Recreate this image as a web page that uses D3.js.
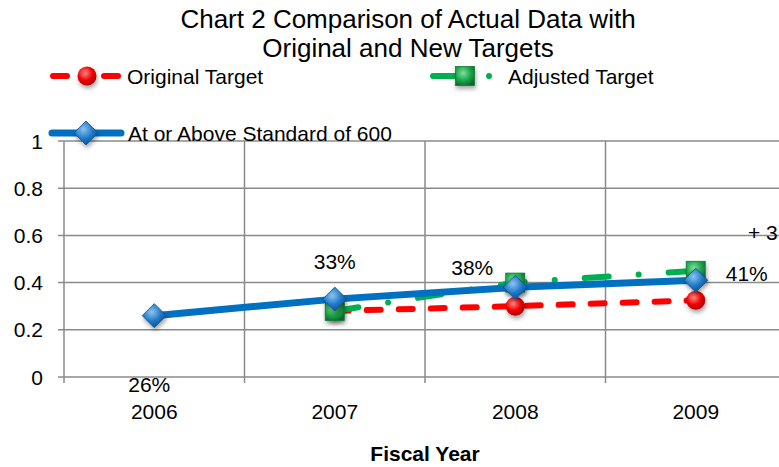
<!DOCTYPE html>
<html>
<head>
<meta charset="utf-8">
<script src="https://cdn.jsdelivr.net/npm/d3@7"></script>
<style>
  html, body { margin: 0; padding: 0; background: #fff; overflow: hidden; }
  svg { display: block; font-family: "Liberation Sans", Arial, sans-serif; }
</style>
</head>
<body>
<svg id="chart" width="779" height="467"></svg>
<script>
// chart values
const years = ["2006", "2007", "2008", "2009"];
const actual = [0.26, 0.33, 0.38, 0.41];
const originalTarget = [null, 0.28, 0.30, 0.325];
const adjustedTarget = [null, 0.28, 0.40, 0.45];
const actualLabels = ["26%", "33%", "38%", "41%"];
const yTicks = [0, 0.2, 0.4, 0.6, 0.8, 1];

const svg = d3.select("#chart");
const defs = svg.append("defs");
const FS = "21px";

// plot area runs past the right edge of the window, as in the reference
const plotLeft = 64, plotRight = 786, plotTop = 141, plotBottom = 377;

const x = d3.scaleBand().domain(years).range([plotLeft, plotRight]).padding(0);
const y = d3.scaleLinear().domain([0, 1]).range([plotBottom, plotTop]);

// marker gradients
function radial(id, light, mid, dark) {
    let g = defs.append("radialGradient").attr("id", id)
        .attr("cx", "40%").attr("cy", "35%").attr("r", "70%");
    g.append("stop").attr("offset", "0%").attr("stop-color", light);
    g.append("stop").attr("offset", "55%").attr("stop-color", mid);
    g.append("stop").attr("offset", "100%").attr("stop-color", dark);
}
radial("gRed", "#ff8a8a", "#f00000", "#a00000");
radial("gGreen", "#7fe0a0", "#1fa84c", "#0b6a2c");
radial("gBlue", "#8cc4f0", "#1f78c8", "#0b4a8a");

let shadow = defs.append("filter").attr("id", "shadow")
    .attr("x", "-50%").attr("y", "-50%").attr("width", "200%").attr("height", "200%");
shadow.append("feDropShadow").attr("dx", 1).attr("dy", 3)
    .attr("stdDeviation", 2).attr("flood-color", "#000").attr("flood-opacity", 0.35);

// title
svg.append("text").attr("x", 408).attr("y", 28).attr("text-anchor", "middle")
    .style("font-size", "26px").text("Chart 2 Comparison of Actual Data with");
svg.append("text").attr("x", 408).attr("y", 57).attr("text-anchor", "middle")
    .style("font-size", "26px").text("Original and New Targets");

// horizontal gridlines + y ticks
const grid = svg.append("g");
yTicks.forEach(t => {
    grid.append("line")
        .attr("x1", plotLeft - 6).attr("x2", plotRight)
        .attr("y1", y(t)).attr("y2", y(t))
        .attr("stroke", "#8a8a8a").attr("stroke-width", 1.5);
    svg.append("text")
        .attr("x", 43).attr("y", y(t)).attr("dy", "0.36em")
        .attr("text-anchor", "end")
        .style("font-size", FS)
        .text(t);
});

// vertical gridlines at category boundaries
const edges = years.map(d => x(d)).concat([plotRight]);
edges.forEach(e => {
    grid.append("line")
        .attr("x1", e).attr("x2", e)
        .attr("y1", plotTop).attr("y2", plotBottom + 6)
        .attr("stroke", "#8a8a8a").attr("stroke-width", 1.5);
});

// x tick labels
years.forEach(yr => {
    svg.append("text")
        .attr("x", x(yr) + x.bandwidth() / 2).attr("y", 419)
        .attr("text-anchor", "middle")
        .style("font-size", FS)
        .text(yr);
});

svg.append("text").attr("x", 425).attr("y", 461).attr("text-anchor", "middle")
    .style("font-size", FS).style("font-weight", "bold").text("Fiscal Year");

const cx = (d, i) => x(years[i]) + x.bandwidth() / 2;
const line = d3.line().defined(d => d != null).x(cx).y(d => y(d));

// markers
function drawCircle(g, px, py) {
    g.append("circle").attr("cx", px).attr("cy", py).attr("r", 9.5)
        .attr("fill", "url(#gRed)").attr("filter", "url(#shadow)");
}
function drawSquare(g, px, py) {
    g.append("rect").attr("x", px - 9.5).attr("y", py - 9.5)
        .attr("width", 19).attr("height", 19)
        .attr("fill", "url(#gGreen)").attr("stroke", "#0e7a34").attr("stroke-width", 0.8)
        .attr("filter", "url(#shadow)");
}
function drawDiamond(g, px, py) {
    g.append("path")
        .attr("d", `M${px},${py - 12}L${px + 12},${py}L${px},${py + 12}L${px - 12},${py}Z`)
        .attr("fill", "url(#gBlue)").attr("stroke", "#0b5394").attr("stroke-width", 0.8)
        .attr("filter", "url(#shadow)");
}

// original target (red dashed)
const red = svg.append("g");
red.append("path").datum(originalTarget).attr("d", line)
    .attr("fill", "none").attr("stroke", "#ff0000").attr("stroke-width", 6)
    .attr("stroke-linecap", "round").attr("stroke-dasharray", "14 18");
originalTarget.forEach((d, i) => { if (d != null) drawCircle(red, cx(d, i), y(d)); });

// adjusted target (green dash-dot)
const green = svg.append("g");
green.append("path").datum(adjustedTarget).attr("d", line)
    .attr("fill", "none").attr("stroke", "#00b050").attr("stroke-width", 6)
    .attr("stroke-linecap", "round").attr("stroke-dasharray", "24 30 0.1 30");
adjustedTarget.forEach((d, i) => { if (d != null) drawSquare(green, cx(d, i), y(d)); });

// actual (blue solid)
const blue = svg.append("g");
blue.append("path").datum(actual).attr("d", line)
    .attr("fill", "none").attr("stroke", "#0070c0").attr("stroke-width", 7)
    .attr("stroke-linecap", "round");
actual.forEach((d, i) => drawDiamond(blue, cx(d, i), y(d)));

// data labels for actual series
const labelPos = ["below", "above", "aboveLeft", "right"];
actual.forEach((d, i) => {
    let px = cx(d, i), py = y(d), dx = 0, dy = 0, anchor = "middle";
    if (labelPos[i] === "below") { dx = -5; dy = 69; }
    if (labelPos[i] === "above") { dy = -38; }
    if (labelPos[i] === "aboveLeft") { dx = -43; dy = -20; }
    if (labelPos[i] === "right") { dx = 30; dy = -7; anchor = "start"; }
    svg.append("text").attr("x", px + dx).attr("y", py + dy)
        .attr("dy", "0.36em").attr("text-anchor", anchor)
        .style("font-size", FS).text(actualLabels[i]);
});

// stray label at the right edge (only "+ 3" is visible in the reference)
svg.append("text").attr("x", 748).attr("y", 240)
    .style("font-size", FS).text("+ 3");

// legend
const legend = svg.append("g");
function legendSeg(x0, x1, yy, color, width) {
    legend.append("line").attr("x1", x0).attr("x2", x1).attr("y1", yy).attr("y2", yy)
        .attr("stroke", color).attr("stroke-width", width)
        .attr("stroke-linecap", "round");
}
legendSeg(53, 67, 76, "#ff0000", 6);
legendSeg(104, 118, 76, "#ff0000", 6);
drawCircle(legend, 87, 76);
legend.append("text").attr("x", 127).attr("y", 76).attr("dy", "0.36em")
    .style("font-size", FS).text("Original Target");

legendSeg(433, 458, 76, "#00b050", 6);
drawSquare(legend, 465, 76);
legend.append("circle").attr("cx", 489).attr("cy", 76).attr("r", 3).attr("fill", "#00b050");
legend.append("text").attr("x", 508).attr("y", 76).attr("dy", "0.36em")
    .style("font-size", FS).text("Adjusted Target");

legendSeg(52, 121, 133, "#0070c0", 7);
drawDiamond(legend, 86, 133);
legend.append("text").attr("x", 128).attr("y", 133).attr("dy", "0.36em")
    .style("font-size", FS).text("At or Above Standard of 600");
</script>
</body>
</html>
